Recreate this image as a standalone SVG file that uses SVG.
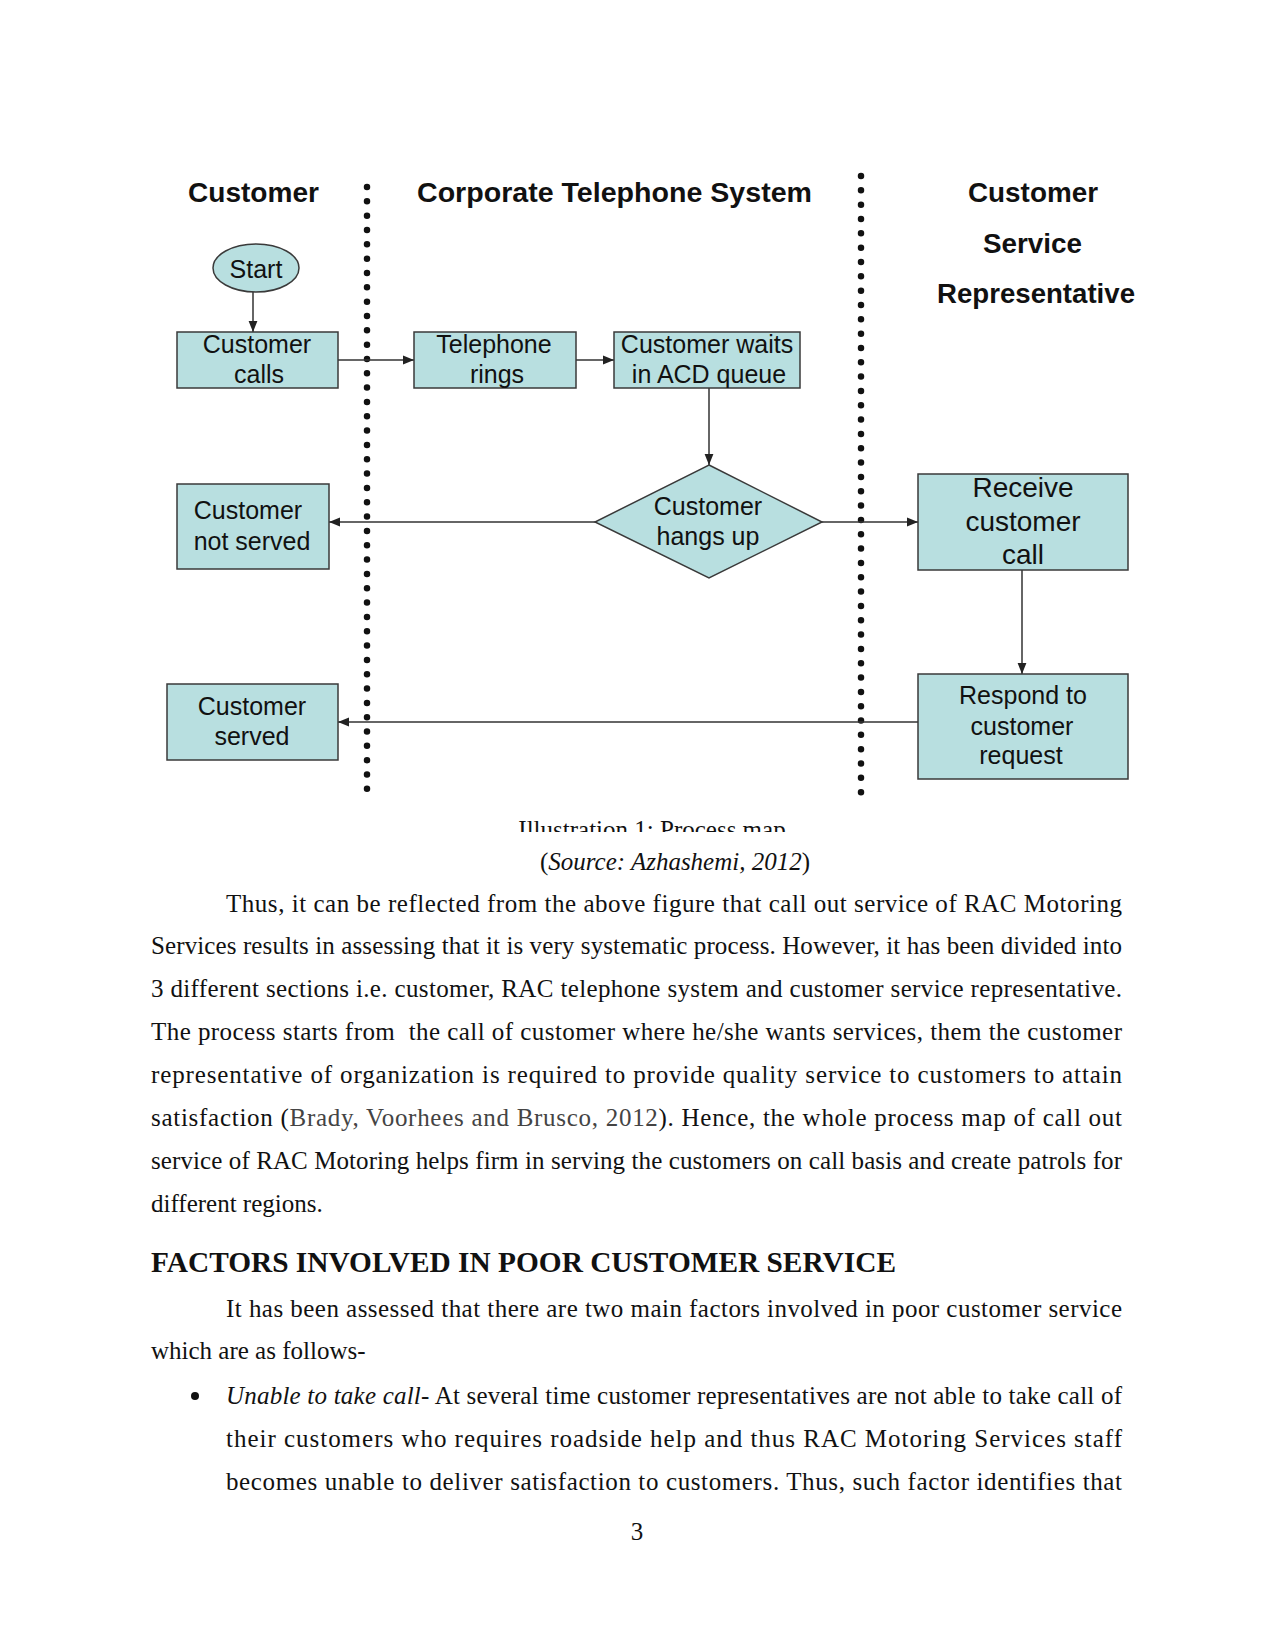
<svg xmlns="http://www.w3.org/2000/svg" width="1275" height="1651" viewBox="0 0 1275 1651">
<style>
.hdr{font-family:"Liberation Sans",Arial,sans-serif;font-weight:bold;font-size:27px;fill:#111;}
.box{fill:#b8dfe0;stroke:#3a3a3a;stroke-width:1.5;}
.lbl{font-family:"Liberation Sans",Arial,sans-serif;font-size:25px;fill:#111;text-anchor:middle;}
.big{font-size:28px;}
.conn{stroke:#333;stroke-width:1.5;fill:none;marker-end:url(#arr);}
.lane{stroke:#111;stroke-width:6.5;stroke-linecap:round;stroke-dasharray:0 14.33;fill:none;}
.body{font-family:"Liberation Serif","Times New Roman",serif;font-size:25px;fill:#111;}
.head{font-family:"Liberation Serif","Times New Roman",serif;font-size:29px;font-weight:bold;fill:#111;}
</style>
<defs>
<marker id="arr" viewBox="0 0 10 10" refX="10" refY="5" markerWidth="11" markerHeight="11" markerUnits="userSpaceOnUse" orient="auto">
<path d="M0,1 L10,5 L0,9 Z" fill="#222"/>
</marker>
<clipPath id="capclip"><rect x="400" y="800" width="500" height="32"/></clipPath>
</defs>
<rect width="1275" height="1651" fill="#fff"/>

<g id="lanes">
<line class="lane" x1="367" y1="187" x2="367" y2="790"/>
<line class="lane" x1="861" y1="176" x2="861" y2="795"/>
</g>

<g id="headers">
<text class="hdr" x="188" y="202" textLength="131" lengthAdjust="spacingAndGlyphs">Customer</text>
<text class="hdr" x="417" y="202" textLength="395" lengthAdjust="spacingAndGlyphs">Corporate Telephone System</text>
<text class="hdr" x="968" y="202" textLength="130" lengthAdjust="spacingAndGlyphs">Customer</text>
<text class="hdr" x="983" y="253" textLength="99" lengthAdjust="spacingAndGlyphs">Service</text>
<text class="hdr" x="937" y="303" textLength="198" lengthAdjust="spacingAndGlyphs">Representative</text>
</g>

<g id="connectors">
<line class="conn" x1="253" y1="292" x2="253" y2="332"/>
<line class="conn" x1="338" y1="360" x2="414" y2="360"/>
<line class="conn" x1="576" y1="360" x2="614" y2="360"/>
<line class="conn" x1="709" y1="388" x2="709" y2="465"/>
<line class="conn" x1="595" y1="522" x2="329" y2="522"/>
<line class="conn" x1="822" y1="522" x2="918" y2="522"/>
<line class="conn" x1="1022" y1="570" x2="1022" y2="674"/>
<line class="conn" x1="918" y1="722" x2="338" y2="722"/>
</g>

<g id="start">
<ellipse class="box" cx="256" cy="268" rx="43" ry="24"/>
<text class="lbl" x="256" y="278" font-size="24">Start</text>
</g>
<g id="customer-calls">
<rect class="box" x="177" y="332" width="161" height="56"/>
<text class="lbl" x="257" y="353">Customer</text>
<text class="lbl" x="259" y="383">calls</text>
</g>
<g id="telephone-rings">
<rect class="box" x="414" y="332" width="162" height="56"/>
<text class="lbl" x="494" y="353">Telephone</text>
<text class="lbl" x="497" y="383">rings</text>
</g>
<g id="customer-waits">
<rect class="box" x="614" y="332" width="186" height="56"/>
<text class="lbl" x="707" y="353">Customer waits</text>
<text class="lbl" x="709" y="383">in ACD queue</text>
</g>
<g id="customer-hangs-up">
<polygon class="box" points="709,465 822,522 709,578 595,522"/>
<text class="lbl" x="708" y="515">Customer</text>
<text class="lbl" x="708" y="545">hangs up</text>
</g>
<g id="customer-not-served">
<rect class="box" x="177" y="484" width="152" height="85"/>
<text class="lbl" x="248" y="519">Customer</text>
<text class="lbl" x="252" y="550">not served</text>
</g>
<g id="receive-call">
<rect class="box" x="918" y="474" width="210" height="96"/>
<text class="lbl big" x="1023" y="497">Receive</text>
<text class="lbl big" x="1023" y="531">customer</text>
<text class="lbl big" x="1023" y="564">call</text>
</g>
<g id="respond">
<rect class="box" x="918" y="674" width="210" height="105"/>
<text class="lbl" x="1023" y="704">Respond to</text>
<text class="lbl" x="1022" y="735">customer</text>
<text class="lbl" x="1021" y="764">request</text>
</g>
<g id="customer-served">
<rect class="box" x="167" y="684" width="171" height="76"/>
<text class="lbl" x="252" y="715">Customer</text>
<text class="lbl" x="252" y="745">served</text>
</g>

<g id="caption">
<text class="body" x="652" y="838" font-size="22" text-anchor="middle" clip-path="url(#capclip)">Illustration 1: Process map</text>
<text class="body" x="675" y="870" text-anchor="middle">(<tspan font-style="italic">Source: Azhashemi, 2012</tspan>)</text>
</g>

<g id="text">
<text class="body" x="226" y="912" textLength="896" lengthAdjust="spacing">Thus, it can be reflected from the above figure that call out service of RAC Motoring</text>
<text class="body" x="151" y="954" textLength="971" lengthAdjust="spacing">Services results in assessing that it is very systematic process. However, it has been divided into</text>
<text class="body" x="151" y="997" textLength="971" lengthAdjust="spacing">3 different sections i.e. customer, RAC telephone system and customer service representative.</text>
<text class="body" x="151" y="1040" textLength="971" lengthAdjust="spacing" xml:space="preserve">The process starts from  the call of customer where he/she wants services, them the customer</text>
<text class="body" x="151" y="1083" textLength="971" lengthAdjust="spacing">representative of organization is required to provide quality service to customers to attain</text>
<text class="body" x="151" y="1126" textLength="971" lengthAdjust="spacing">satisfaction (<tspan fill="#444">Brady, Voorhees and Brusco, 2012</tspan>). Hence, the whole process map of call out</text>
<text class="body" x="151" y="1169" textLength="971" lengthAdjust="spacing">service of RAC Motoring helps firm in serving the customers on call basis and create patrols for</text>
<text class="body" x="151" y="1212">different regions.</text>
<text class="head" x="151" y="1272" textLength="745" lengthAdjust="spacingAndGlyphs">FACTORS INVOLVED IN POOR CUSTOMER SERVICE</text>
<text class="body" x="226" y="1317" textLength="896" lengthAdjust="spacing">It has been assessed that there are two main factors involved in poor customer service</text>
<text class="body" x="151" y="1359">which are as follows-</text>
<circle cx="195" cy="1396" r="4" fill="#111"/>
<text class="body" x="226" y="1404" textLength="896" lengthAdjust="spacing"><tspan font-style="italic">Unable to take call</tspan>- At several time customer representatives are not able to take call of</text>
<text class="body" x="226" y="1447" textLength="896" lengthAdjust="spacing">their customers who requires roadside help and thus RAC Motoring Services staff</text>
<text class="body" x="226" y="1490" textLength="896" lengthAdjust="spacing">becomes unable to deliver satisfaction to customers. Thus, such factor identifies that</text>
<text class="body" x="637" y="1540" text-anchor="middle">3</text>
</g>
</svg>
